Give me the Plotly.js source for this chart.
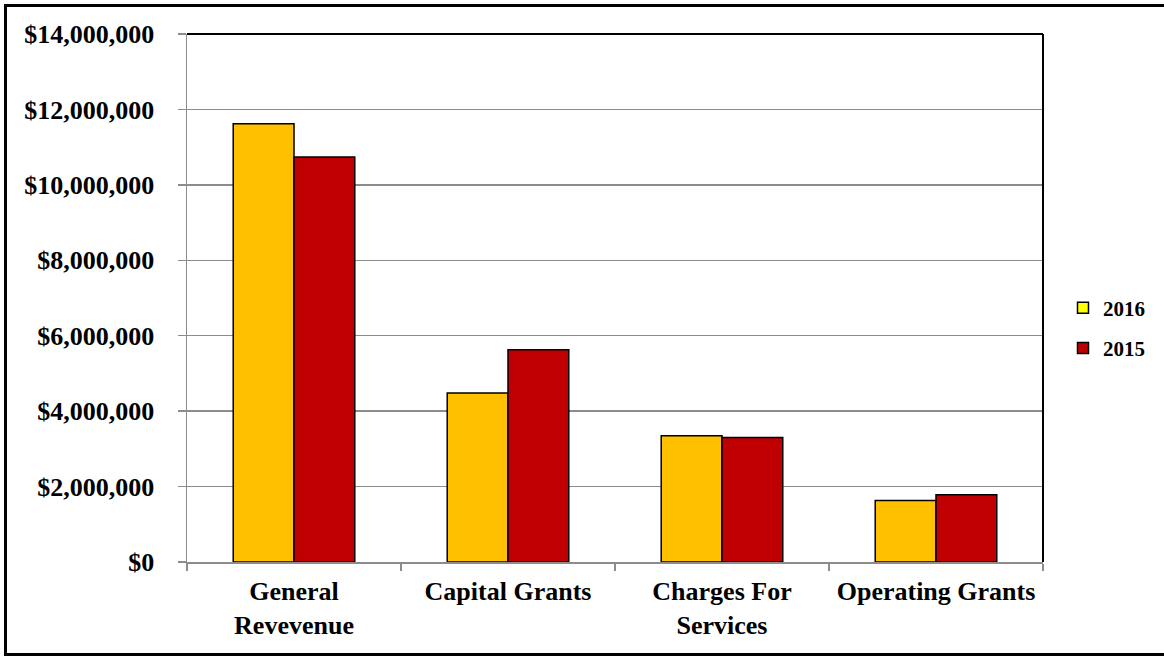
<!DOCTYPE html>
<html>
<head>
<meta charset="utf-8">
<script src="https://cdn.plot.ly/plotly-3.0.1.min.js"></script>
<style>
  html, body { margin: 0; padding: 0; background: #fff; overflow: hidden; }
  #wrap { position: relative; width: 1164px; height: 656px; overflow: hidden; }
  #chart { position: absolute; left: 0; top: 0; width: 1164px; height: 656px; }
  #frame { position: absolute; left: 4px; top: 4px; width: 1200px; height: 652px;
           box-sizing: border-box; border: 3px solid #000; pointer-events: none; }
</style>
</head>
<body>
<div id="wrap">
  <div id="chart"></div>
  <div id="frame"></div>
</div>
<script>
const categories = ["General<br>Revevenue", "Capital Grants", "Charges For<br>Services", "Operating Grants"];
const values2016 = [11620000, 4480000, 3350000, 1630000];
const values2015 = [10740000, 5630000, 3300000, 1780000];
const seriesNames = ["2016", "2015"];
const yTicks = [0, 2000000, 4000000, 6000000, 8000000, 10000000, 12000000, 14000000];

const barColors = ["#FFC000", "#C00000"];
const legendColors = ["#FFFF00", "#C00000"];
const fontFam = "'Liberation Serif', 'Times New Roman', serif";

const traces = [
  {type: "bar", x: categories, y: values2016, name: seriesNames[0], showlegend: false,
   marker: {color: barColors[0], line: {color: "#000", width: 1.5}}, hoverinfo: "y"},
  {type: "bar", x: categories, y: values2015, name: seriesNames[1], showlegend: false,
   marker: {color: barColors[1], line: {color: "#000", width: 1.5}}, hoverinfo: "y"},
  {type: "scatter", mode: "markers", x: [null], y: [null], name: seriesNames[0],
   legendgroup: "a", marker: {symbol: "square", size: 11, color: legendColors[0], line: {color: "#000", width: 1.5}}},
  {type: "scatter", mode: "markers", x: [null], y: [null], name: seriesNames[1],
   legendgroup: "b", marker: {symbol: "square", size: 11, color: legendColors[1], line: {color: "#000", width: 1.5}}}
];

const L = 186.5, R = 1043, T = 34, B = 562;
const layout = {
  width: 1164, height: 656,
  margin: {l: L, r: 1164 - R, t: T, b: 656 - B, pad: 0, autoexpand: false},
  paper_bgcolor: "#fff", plot_bgcolor: "#fff",
  font: {family: fontFam, color: "#000"},
  barmode: "group", bargap: 0.432, bargroupgap: 0,
  showlegend: true,
  legend: {x: (1063 - L) / (R - L), xanchor: "left", y: (B - 328) / (B - T), yanchor: "middle",
           traceorder: "grouped", tracegroupgap: 10,
           font: {family: fontFam, size: 21, color: "#000", weight: "bold"},
           bgcolor: "rgba(0,0,0,0)", itemwidth: 30},
  xaxis: {type: "category", tickson: "boundaries", ticks: "outside", ticklen: 7, tickwidth: 1.5,
          tickcolor: "#8c8c8c", showline: true, linecolor: "#8c8c8c", linewidth: 1.5,
          showgrid: false, zeroline: false, automargin: false, ticklabelstandoff: 5,
          tickfont: {family: fontFam, size: 26, color: "#000", weight: "bold"}},
  yaxis: {range: [0, 14000000], tickvals: yTicks, tickformat: "$,.0f", ticks: "outside", ticklen: 8,
          tickwidth: 1.5, tickcolor: "#8c8c8c", showline: true, linecolor: "#8c8c8c", linewidth: 1.5,
          showgrid: true, gridcolor: "#8c8c8c", gridwidth: 1.3, zeroline: false, automargin: false,
          ticklabelstandoff: 18,
          tickfont: {family: fontFam, size: 26, color: "#000", weight: "bold"}},
  shapes: [
    {type: "line", xref: "paper", yref: "paper", x0: 0, x1: 1, y0: 1, y1: 1, line: {color: "#000", width: 2}, layer: "above"},
    {type: "line", xref: "paper", yref: "paper", x0: 1, x1: 1, y0: 0, y1: 1, line: {color: "#000", width: 2}, layer: "above"}
  ]
};

Plotly.newPlot("chart", traces, layout, {displayModeBar: false, staticPlot: true});
</script>
</body>
</html>
